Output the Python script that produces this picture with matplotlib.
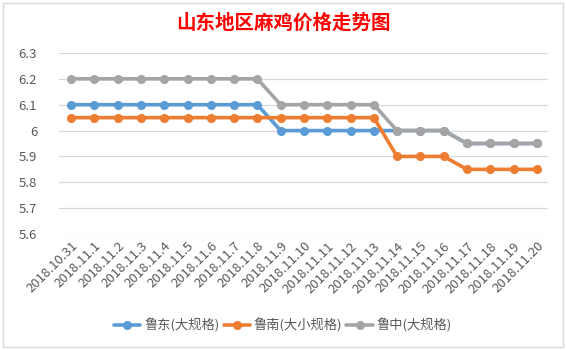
import matplotlib
matplotlib.use("Agg")
import matplotlib.pyplot as plt
from matplotlib.patches import Rectangle

plt.rcParams['font.family'] = ['Noto Sans CJK SC', 'DejaVu Sans']

dates = ["2018.10.31", "2018.11.1", "2018.11.2", "2018.11.3", "2018.11.4", "2018.11.5",
         "2018.11.6", "2018.11.7", "2018.11.8", "2018.11.9", "2018.11.10", "2018.11.11",
         "2018.11.12", "2018.11.13", "2018.11.14", "2018.11.15", "2018.11.16", "2018.11.17",
         "2018.11.18", "2018.11.19", "2018.11.20"]
ludong = [6.1, 6.1, 6.1, 6.1, 6.1, 6.1, 6.1, 6.1, 6.1, 6.0, 6.0, 6.0, 6.0, 6.0, 6.0,
          6.0, 6.0, 5.95, 5.95, 5.95, 5.95]
lunan = [6.05, 6.05, 6.05, 6.05, 6.05, 6.05, 6.05, 6.05, 6.05, 6.05, 6.05, 6.05, 6.05, 6.05,
         5.9, 5.9, 5.9, 5.85, 5.85, 5.85, 5.85]
luzhong = [6.2, 6.2, 6.2, 6.2, 6.2, 6.2, 6.2, 6.2, 6.2, 6.1, 6.1, 6.1, 6.1, 6.1, 6.0,
           6.0, 6.0, 5.95, 5.95, 5.95, 5.95]
series_names = ["鲁东(大规格)", "鲁南(大小规格)", "鲁中(大规格)"]
yticks = [5.6, 5.7, 5.8, 5.9, 6.0, 6.1, 6.2, 6.3]
ytick_labels = ["5.6", "5.7", "5.8", "5.9", "6", "6.1", "6.2", "6.3"]

colors = ["#5B9BD5", "#ED7D31", "#A5A5A5"]

fig = plt.figure(figsize=(5.66, 3.5), dpi=100)
fig.patch.set_facecolor("white")
fig.patches.append(Rectangle((3/566, 3/350), 560/566, 344/350, transform=fig.transFigure,
                             fill=False, edgecolor="#D9D9D9", linewidth=1.0))

ax = fig.add_axes([0.105, 0.3314, 0.864, 0.5172])
x = list(range(len(dates)))
for vals, name, c in zip([ludong, lunan, luzhong], series_names, colors):
    ax.plot(x, vals, color=c, linewidth=2.6, marker="o", markersize=5.5,
            markerfacecolor=c, markeredgecolor=c, label=name, solid_capstyle="round", zorder=3)

ax.set_xlim(-0.5, len(dates) - 0.5)
ax.set_ylim(5.6, 6.3)
ax.set_yticks(yticks)
ax.set_yticklabels(ytick_labels)
ax.set_xticks(x)
ax.set_xticklabels(dates, rotation=45, ha="right", va="top", rotation_mode="anchor")
ax.tick_params(axis="both", length=0, colors="#595959", labelsize=9.5)
ax.tick_params(axis="y", pad=16)
ax.tick_params(axis="x", pad=4)
ax.grid(axis="y", color="#D9D9D9", linewidth=0.9)
ax.set_axisbelow(True)
for s in ax.spines.values():
    s.set_visible(False)

fig.text(0.5, 0.935, "山东地区麻鸡价格走势图", ha="center", va="center",
         color="#FF0000", fontsize=14, fontweight="bold")

leg = fig.legend(loc="center", bbox_to_anchor=(0.5, 0.07), ncol=3, frameon=False,
                 fontsize=9.5, handlelength=2.0, columnspacing=0.3, handletextpad=0.3)
for t in leg.get_texts():
    t.set_color("#595959")

fig.savefig("out.png", dpi=100)
